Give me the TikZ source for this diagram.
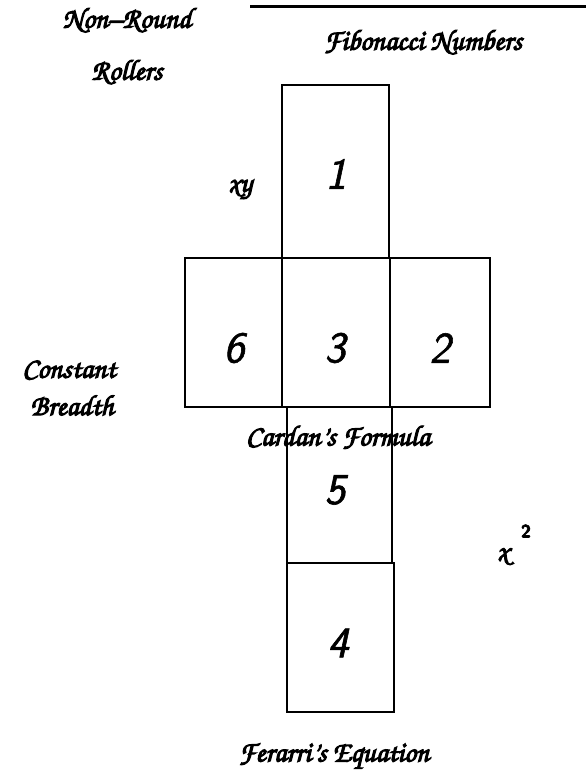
\documentclass[tikz,border=0pt]{standalone}
\newcommand\heavytext[1]{\special{pdf:literal direct 2 Tr 1.1 w}#1\special{pdf:literal direct 0 Tr}}
\newcommand\mediumtext[1]{\special{pdf:literal direct 2 Tr 0.6 w}#1\special{pdf:literal direct 0 Tr}}
\begin{document}
\begin{tikzpicture}[x=1pt,y=-1pt,
  cell/.style={draw,line width=1.5pt},
  digit/.style={font=\fontsize{44}{46}\selectfont\sffamily\slshape},
  lbl/.style={font=\fontencoding{T1}\fontfamily{pzc}\fontseries{mb}\fontshape{it}\fontsize{29}{31}\selectfont},
]
\useasboundingbox (0,0) rectangle (586,778);
% top line
\coordinate (la) at (250,7);
\coordinate (lb) at (586,7);
\draw[line width=3pt] (la) -- (lb);
% boxes
\draw[cell] (282,85) rectangle (389,258);
\draw[cell] (185,258) rectangle (282,407);
\draw[cell] (282,258) rectangle (390,407);
\draw[cell] (390,258) rectangle (490,407);
\draw[cell] (287,407) rectangle (392,563);
\draw[cell] (287,563) rectangle (394,712);
% digits
\node[digit] (d1) at (336,174) {\mediumtext{1}};
\node[digit] (d6) at (234,348) {\mediumtext{6}};
\node[digit] (d3) at (335,348) {\mediumtext{3}};
\node[digit] (d2) at (440,348) {\mediumtext{2}};
\node[digit] (d5) at (335,490) {\mediumtext{5}};
\node[digit] (d4) at (338,643) {\mediumtext{4}};
% labels
\node[lbl] (nr) at (127,20) {\heavytext{Non--Round}};
\node[lbl] (ro) at (127,72) {\heavytext{Rollers}};
\node[lbl] (fib) at (423,42) {\heavytext{Fibonacci Numbers}};
\node[lbl] (xy) at (240,190) {\heavytext{xy}};
\node[lbl] (co) at (69,369) {\heavytext{Constant}};
\node[lbl] (br) at (72,405) {\heavytext{Breadth}};
\node[lbl] (ca) at (338,437) {\heavytext{Cardan's Formula}};
\node[lbl] (xx) at (503,557) {\heavytext{x}};
\node[font=\sffamily\bfseries\fontsize{18}{18}\selectfont] (sq) at (526,531) {\mediumtext{2}};
\node[lbl] (fe) at (334,757) {\heavytext{Ferarri's Equation}};
\end{tikzpicture}
\end{document}
